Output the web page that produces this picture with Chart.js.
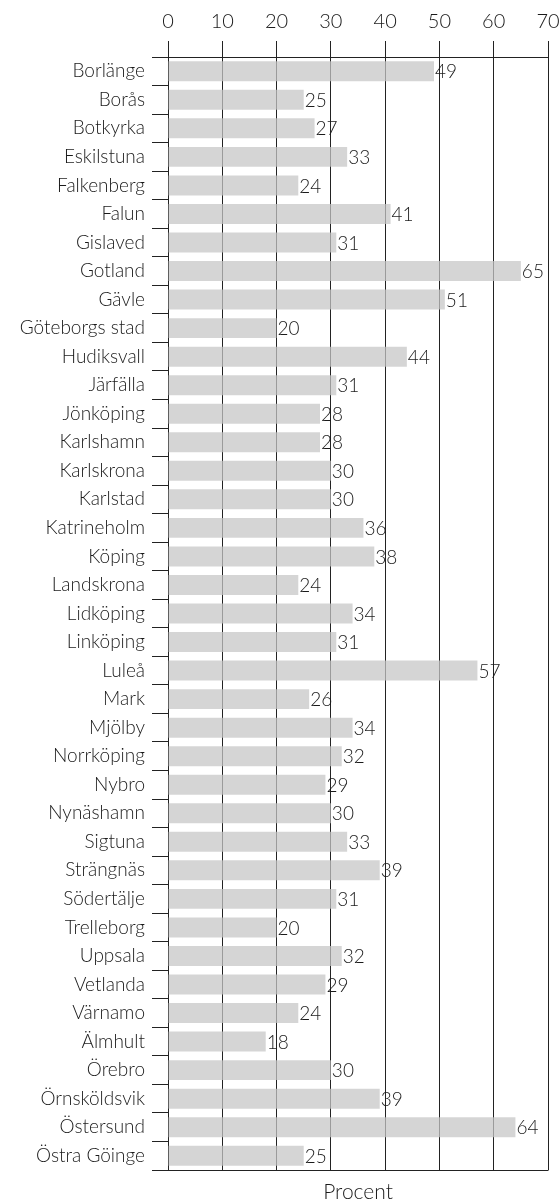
<!DOCTYPE html>
<html>
<head>
<meta charset="utf-8">
<script src="https://cdn.jsdelivr.net/npm/chart.js@4"></script>
<style>
  html, body { margin: 0; padding: 0; background: #fff; }
  #wrap { width: 560px; height: 1204px; }
</style>
</head>
<body>
<div id="wrap"><canvas id="c" width="560" height="1204"></canvas></div>
<script>
const categories = ["Borlänge","Borås","Botkyrka","Eskilstuna","Falkenberg","Falun","Gislaved","Gotland","Gävle","Göteborgs stad","Hudiksvall","Järfälla","Jönköping","Karlshamn","Karlskrona","Karlstad","Katrineholm","Köping","Landskrona","Lidköping","Linköping","Luleå","Mark","Mjölby","Norrköping","Nybro","Nynäshamn","Sigtuna","Strängnäs","Södertälje","Trelleborg","Uppsala","Vetlanda","Värnamo","Älmhult","Örebro","Örnsköldsvik","Östersund","Östra Göinge"];
const values = [49,25,27,33,24,41,31,65,51,20,44,31,28,28,30,30,36,38,24,34,31,57,26,34,32,29,30,33,39,31,20,32,29,24,18,30,39,64,25];
const xTicks = [0,10,20,30,40,50,60,70];
const axisTitle = "Procent";

const FONT = "Lato, 'Open Sans', sans-serif";
const WEIGHT = 300;
const TEXT = "#1a1a1a";
const LINE = "#222222";

const valueLabels = {
  id: 'valueLabels',
  afterDatasetsDraw(chart) {
    const ctx = chart.ctx;
    const meta = chart.getDatasetMeta(0);
    ctx.save();
    ctx.font = WEIGHT + " 19px " + FONT;
    ctx.fillStyle = TEXT;
    ctx.textAlign = 'left';
    ctx.textBaseline = 'middle';
    meta.data.forEach((bar, i) => {
      ctx.fillText(String(values[i]), bar.x + 1, bar.y + 1);
    });
    ctx.restore();
  }
};

const frame = {
  id: 'frame',
  afterDraw(chart) {
    const ctx = chart.ctx;
    const a = chart.chartArea;
    ctx.save();
    ctx.strokeStyle = LINE;
    ctx.lineWidth = 1;
    const y = Math.round(a.bottom) + 0.5;
    ctx.beginPath();
    ctx.moveTo(a.left - 16, y);
    ctx.lineTo(a.right + 0.5, y);
    ctx.stroke();
    ctx.font = WEIGHT + " 21px " + FONT;
    ctx.fillStyle = TEXT;
    ctx.textAlign = 'center';
    ctx.textBaseline = 'alphabetic';
    ctx.fillText(axisTitle, (a.left + a.right) / 2, 1199);
    ctx.restore();
  }
};

new Chart(document.getElementById('c'), {
  type: 'bar',
  data: {
    labels: categories,
    datasets: [{
      data: values,
      backgroundColor: 'rgba(198,198,198,0.74)',
      borderWidth: 0,
      categoryPercentage: 1.0,
      barPercentage: 0.7
    }]
  },
  options: {
    indexAxis: 'y',
    responsive: false,
    animation: false,
    devicePixelRatio: 1,
    layout: { padding: { left: 0, right: 12, top: 0, bottom: 34 } },
    plugins: { legend: { display: false }, tooltip: { enabled: false } },
    scales: {
      x: {
        position: 'top',
        min: 0, max: 70,
        afterFit(scale) { scale.height = 57; scale.paddingLeft = 0; scale.paddingRight = 0; },
        afterBuildTicks(scale) { scale.ticks = xTicks.map(v => ({ value: v })); },
        ticks: { color: TEXT, font: { family: FONT, size: 20, weight: WEIGHT }, padding: 7, maxRotation: 0 },
        grid: { color: LINE, lineWidth: 1, tickLength: 16, drawOnChartArea: true, drawTicks: true },
        border: { display: true, color: LINE, width: 1 }
      },
      y: {
        afterFit(scale) { scale.width = 168; scale.paddingTop = 0; scale.paddingBottom = 0; },
        ticks: { color: TEXT, font: { family: FONT, size: 19, weight: WEIGHT }, padding: 7, autoSkip: false },
        grid: { offset: true, color: LINE, lineWidth: 1, tickLength: 16, drawOnChartArea: false, drawTicks: true },
        border: { display: true, color: LINE, width: 1 }
      }
    }
  },
  plugins: [valueLabels, frame]
});
</script>
</body>
</html>
